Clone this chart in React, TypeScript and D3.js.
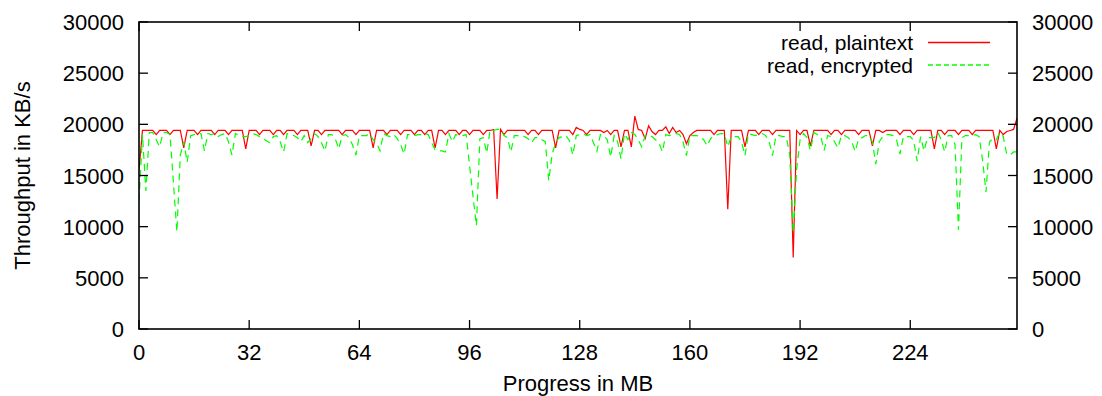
import React from "react";
import * as d3 from "d3";

// throughput samples, one per MB of progress (KB/s)
const readPlaintext = [
  15500, 19400, 19400, 19400, 19400, 19000, 19400, 19400, 19400, 19000,
  19400, 19400, 19400, 17700, 19400, 19400, 19400, 19000, 19400, 19400,
  19400, 19400, 19000, 19400, 19400, 19400, 19000, 19400, 19400, 19400,
  19400, 17600, 19400, 19400, 19400, 19000, 19400, 19400, 19400, 19000,
  19400, 19400, 19000, 19400, 19400, 19400, 19000, 19400, 19400, 19400,
  17900, 19400, 19400, 19000, 19400, 19400, 19400, 19400, 19400, 19000,
  19400, 19400, 19400, 19000, 19400, 19400, 19400, 19400, 17700, 19400,
  19400, 19400, 19000, 19400, 19400, 19400, 19000, 19400, 19400, 19400,
  19000, 19400, 19400, 19000, 19400, 19400, 17700, 19400, 19400, 19000,
  19400, 19400, 19400, 19000, 19400, 19400, 19000, 19400, 19400, 19400,
  19000, 19400, 19400, 19500, 12700, 19500, 19000, 19400, 19400, 19400,
  19400, 19400, 19400, 19000, 19400, 19400, 19000, 19400, 19400, 19400,
  19400, 17700, 19400, 19400, 19400, 19400, 19000, 19700, 19500, 19400,
  19000, 19400, 19400, 19400, 19400, 19200, 19400, 19000, 19400, 19400,
  17800, 19400, 19400, 17800, 20800, 19500, 19400, 18600, 19850, 19300,
  19000, 19400, 19400, 19750, 19100, 19700, 19200, 19400, 19000, 18100,
  18900, 19200, 19400, 19400, 19400, 19400, 19400, 19000, 19400, 19400,
  19400, 11700, 19400, 19400, 19400, 19400, 17800, 19400, 19400, 19400,
  19000, 19400, 19400, 19400, 19000, 19400, 19400, 19400, 19400, 19400,
  7000, 19400, 19000, 19400, 19400, 17900, 19400, 19400, 19400, 19400,
  19400, 19000, 19400, 19400, 19000, 19400, 19400, 19400, 19400, 19000,
  19400, 19400, 19400, 17900, 19400, 19400, 19200, 19400, 19400, 19400,
  19400, 19000, 19400, 19400, 19400, 19000, 19400, 19400, 19400, 19400,
  19400, 17600, 19400, 19400, 19000, 19400, 19400, 19400, 19000, 19400,
  19400, 19400, 19000, 19400, 19400, 19400, 19400, 19400, 19400, 17600,
  19400, 19000, 19300, 19400, 19500, 20600
];

const readEncrypted = [
  12500, 19000, 13500, 19200, 19200, 18500, 17800, 19200, 19200, 19000,
  14300, 9500, 17000, 18300, 16300, 18900, 19000, 19100, 19100, 17400,
  19100, 19000, 19100, 18800, 19000, 19100, 18300, 17000, 19100, 18900,
  18800, 18800, 18900, 19100, 19000, 18800, 18600, 18400, 18200, 18800,
  18900, 18300, 17300, 19100, 19000, 18900, 18700, 18300, 18900, 18200,
  18600, 19100, 18800, 18200, 17400, 19000, 19000, 18600, 17600, 18900,
  19000, 18700, 18000, 17000, 18900, 18900, 18900, 19100, 18500, 18200,
  17400, 19100, 18900, 18800, 19000, 18600, 18000, 17100, 19000, 19000,
  18900, 19000, 19000, 19100, 19000, 18200, 17500, 17400, 17400, 17300,
  19100, 18300, 19000, 18900, 18900, 19000, 16000, 13000, 10100, 18600,
  18700, 17200, 19500, 19400, 19500, 19500, 18900, 18700, 17300, 18900,
  18900, 18900, 18800, 18600, 18200, 18700, 18700, 18500, 18300, 14500,
  17100, 18200, 18700, 18800, 18900, 18400, 17000, 18900, 19000, 19100,
  18900, 19000, 18200, 17350, 19000, 18900, 18500, 16800, 18900, 18300,
  16600, 19100, 18500, 19200, 19000, 18500, 17800, 18900, 18900, 18800,
  18500, 18200, 17300, 19000, 18900, 19000, 19100, 19000, 18300, 16950,
  18900, 18900, 18900, 18800, 18500, 17900, 18600, 18900, 19000, 19100,
  19100, 17800, 18800, 18800, 18800, 18300, 16950, 19100, 19000, 18900,
  19000, 19100, 18900, 18300, 16950, 18900, 18900, 18800, 18800, 17000,
  9400, 15600, 18500, 19100, 18700, 17450, 19200, 19000, 18800, 17450,
  18900, 18800, 18300, 17700, 18900, 18900, 18700, 18300, 17350, 18600,
  18700, 18900, 18900, 18300, 16100, 18300, 18800, 19000, 19000, 18900,
  18500, 17100, 18800, 18800, 18800, 18400, 16400, 18800, 17400, 18700,
  18700, 18700, 19200, 18500, 17300, 18900, 18900, 18000, 9700, 18700,
  18900, 18900, 18900, 19000, 18800, 16500, 13400, 18300, 18600, 18500,
  19200, 18800, 17100, 17000, 17300, 17300
];

const seriesNames = ["read, plaintext", "read, encrypted"];
const xTicks = [0, 32, 64, 96, 128, 160, 192, 224];
const yTicks = [0, 5000, 10000, 15000, 20000, 25000, 30000];

const W = 1102,
  H = 396;
const margin = { top: 22, right: 85, bottom: 67, left: 139 };
const font = "'Liberation Sans', Arial, Helvetica, sans-serif";
const tickLen = 9;

export default function App() {
  const x = d3
    .scaleLinear()
    .domain([0, 255])
    .range([margin.left, W - margin.right]);
  const y = d3
    .scaleLinear()
    .domain([0, 30000])
    .range([H - margin.bottom, margin.top]);

  const line = d3
    .line<number>()
    .x((d, i) => x(i))
    .y(d => y(d));

  const x0 = margin.left,
    x1 = W - margin.right,
    y0 = H - margin.bottom,
    y1 = margin.top;

  const series = [
    { name: seriesNames[0], values: readPlaintext, color: "#ff0000", dash: null },
    { name: seriesNames[1], values: readEncrypted, color: "#00ff00", dash: "7,5" }
  ];

  return (
    <svg
      width={W}
      height={H}
      style={{ position: "absolute", left: 0, top: 0, background: "#fff" }}
      fontFamily={font}
      fontSize={22}
    >
      <defs>
        <clipPath id="plot">
          <rect x={x0} y={y1} width={x1 - x0} height={y0 - y1} />
        </clipPath>
      </defs>

      {/* data */}
      <g clipPath="url(#plot)">
        {series.map(s => (
          <path
            key={s.name}
            d={line(s.values)}
            fill="none"
            stroke={s.color}
            strokeWidth={1.2}
            strokeDasharray={s.dash || undefined}
            strokeLinejoin="miter"
          />
        ))}
      </g>

      {/* ticks, mirrored on all sides */}
      <g stroke="#000" strokeWidth={1.3}>
        {xTicks.map(t => (
          <g key={"x" + t}>
            <line x1={x(t)} x2={x(t)} y1={y0} y2={y0 - tickLen} />
            <line x1={x(t)} x2={x(t)} y1={y1} y2={y1 + tickLen} />
          </g>
        ))}
        {yTicks.map(t => (
          <g key={"y" + t}>
            <line x1={x0} x2={x0 + tickLen} y1={y(t)} y2={y(t)} />
            <line x1={x1} x2={x1 - tickLen} y1={y(t)} y2={y(t)} />
          </g>
        ))}
      </g>

      <rect
        x={x0}
        y={y1}
        width={x1 - x0}
        height={y0 - y1}
        fill="none"
        stroke="#000"
        strokeWidth={1.6}
      />

      {/* tick labels */}
      <g fill="#000">
        {xTicks.map(t => (
          <text key={"xl" + t} x={x(t)} y={y0 + 31} textAnchor="middle">
            {t}
          </text>
        ))}
        {yTicks.map(t => (
          <text key={"yl" + t} x={x0 - 15} y={y(t) + 8} textAnchor="end">
            {t}
          </text>
        ))}
        {yTicks.map(t => (
          <text key={"yr" + t} x={x1 + 15} y={y(t) + 8} textAnchor="start">
            {t}
          </text>
        ))}
      </g>

      {/* axis titles */}
      <text x={(x0 + x1) / 2} y={H - 5} textAnchor="middle">
        Progress in MB
      </text>
      <text
        transform={`translate(30, ${(y0 + y1) / 2}) rotate(-90)`}
        textAnchor="middle"
      >
        Throughput in KB/s
      </text>

      {/* legend */}
      {series.map((s, i) => (
        <g key={"lg" + i} transform={`translate(0, ${42.5 + i * 22.5})`}>
          <text x={913} y={7.5} textAnchor="end" fontSize={21}>
            {s.name}
          </text>
          <line
            x1={928}
            x2={990}
            y1={0}
            y2={0}
            stroke={s.color}
            strokeWidth={1.4}
            strokeDasharray={s.dash ? "5,3" : undefined}
          />
        </g>
      ))}
    </svg>
  );
}
